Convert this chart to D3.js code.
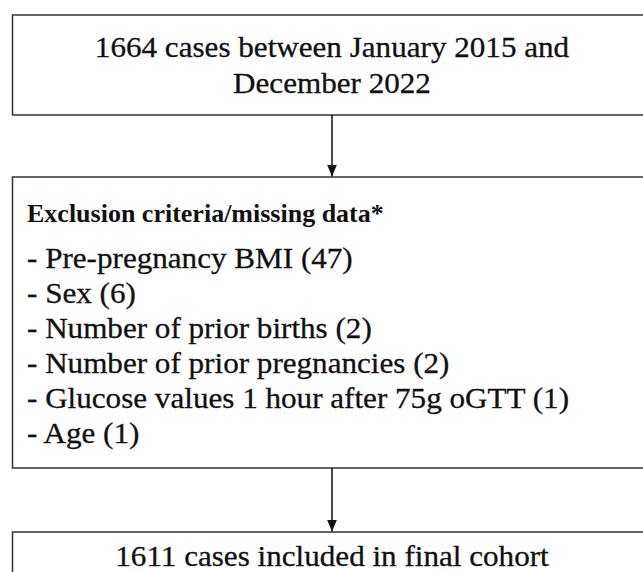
<!DOCTYPE html>
<html lang="en">
<head>
<meta charset="UTF-8">
<title>Flowchart</title>
<script src="https://cdn.jsdelivr.net/npm/d3@7"></script>
<style>
  body { margin: 0; background: #fff; }
  svg { display: block; }
</style>
</head>
<body>
<svg width="643" height="572"></svg>
<script>
// data
const topLines = ["1664 cases between January 2015 and", "December 2022"];
const exclusionTitle = "Exclusion criteria/missing data*";
const exclusionItems = ["Pre-pregnancy BMI", "Sex", "Number of prior births",
  "Number of prior pregnancies", "Glucose values 1 hour after 75g oGTT", "Age"];
const exclusionCounts = [47, 6, 2, 2, 1, 1];
const finalLines = ["1611 cases included in final cohort"];

const svg = d3.select("svg");
const font = "'Liberation Serif', 'Times New Roman', serif";
const stroke = "#333";
const ink = "#111";
const sx = 1.055; // horizontal stretch, the original face is wider than Times
const cx = 332;
const boxX = 12.5, boxW = 639;

// boxes
const boxes = [
  { y: 15, h: 100 },
  { y: 177, h: 291 },
  { y: 532, h: 80 }
];
svg.selectAll("rect.box")
  .data(boxes)
  .enter()
  .append("rect")
  .attr("class", "box")
  .attr("x", boxX)
  .attr("y", d => d.y)
  .attr("width", boxW)
  .attr("height", d => d.h)
  .attr("fill", "none")
  .attr("stroke", stroke)
  .attr("stroke-width", 1.5)

// arrow head, tip along +x so it follows the line direction
svg.append("defs").append("marker")
  .attr("id", "head")
  .attr("viewBox", "0 0 12 10")
  .attr("refX", 12).attr("refY", 5)
  .attr("markerWidth", 12).attr("markerHeight", 10)
  .attr("markerUnits", "userSpaceOnUse")
  .attr("orient", "auto")
  .append("path")
  .attr("d", "M0,0 L12,5 L0,10 Z")
  .attr("fill", ink)

const arrows = d3.pairs(boxes).map(([a, b]) => ({ y1: a.y + a.h, y2: b.y }));
svg.selectAll("line.arrow")
  .data(arrows)
  .enter()
  .append("line")
  .attr("class", "arrow")
  .attr("x1", cx).attr("x2", cx)
  .attr("y1", d => d.y1)
  .attr("y2", d => d.y2 - 0.5)
  .attr("stroke", ink)
  .attr("stroke-width", 1.5)
  .attr("marker-end", "url(#head)")

// regular text is a bit heavier in the original, so a thin outline is added
function regular(sel) {
  sel.style("font-family", font)
    .style("font-size", "29.5px")
    .attr("fill", ink)
    .attr("stroke", ink)
    .attr("stroke-width", 0.3)
}

// top box text
const topY = d3.scaleLinear().domain([0, 1]).range([57, 93]);
svg.selectAll("text.top")
  .data(topLines)
  .enter()
  .append("text")
  .attr("class", "top")
  .attr("transform", (d, i) => `translate(${cx},${topY(i)}) scale(${sx},1)`)
  .attr("text-anchor", "middle")
  .call(regular)
  .text(d => d)

// exclusion box
svg.append("text")
  .attr("transform", `translate(27,222)`)
  .style("font-family", font)
  .style("font-size", "26px")
  .style("font-weight", "bold")
  .attr("fill", ink)
  .text(exclusionTitle)

const itemY = d3.scaleLinear().domain([0, 1]).range([268, 303]);
svg.selectAll("text.item")
  .data(exclusionItems)
  .enter()
  .append("text")
  .attr("class", "item")
  .attr("transform", (d, i) => `translate(27,${itemY(i)}) scale(${sx},1)`)
  .call(regular)
  .text((d, i) => "- " + d + " (" + exclusionCounts[i] + ")")

// final box
svg.selectAll("text.final")
  .data(finalLines)
  .enter()
  .append("text")
  .attr("class", "final")
  .attr("transform", (d, i) => `translate(${cx},${566 + i * 36}) scale(${sx},1)`)
  .attr("text-anchor", "middle")
  .call(regular)
  .text(d => d)
</script>
</body>
</html>
